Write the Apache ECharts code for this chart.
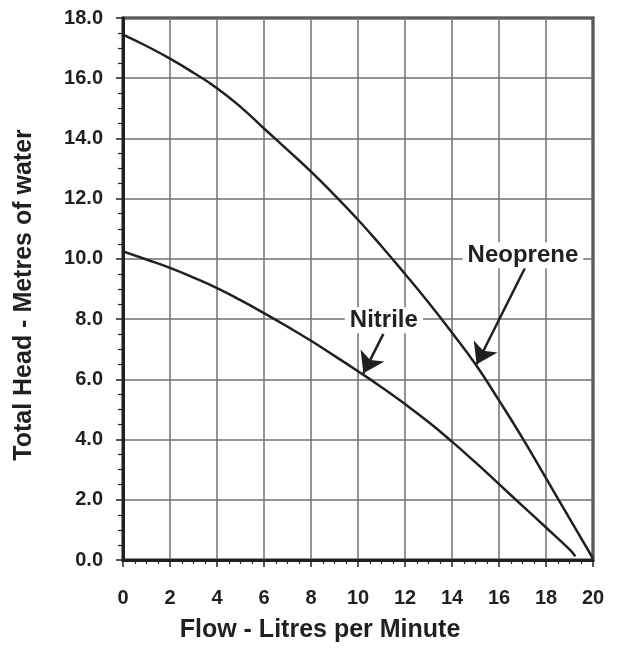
<!DOCTYPE html>
<html><head><meta charset="utf-8">
<script src="https://cdn.jsdelivr.net/npm/echarts@6/dist/echarts.min.js"></script>
<style>html,body{margin:0;padding:0;background:#fff}#c{width:617px;height:648px}</style>
</head><body><div id="c"></div>
<script>
// Data
const neopreneFlow = [0, 1, 2, 3, 4, 5, 6, 7, 8, 9, 10, 11, 12, 13, 14, 15, 16, 17, 18, 19, 20];
const neopreneHead = [17.45, 17.07, 16.65, 16.18, 15.67, 15.05, 14.33, 13.62, 12.9, 12.12, 11.3, 10.42, 9.5, 8.55, 7.55, 6.5, 5.3, 4.05, 2.72, 1.38, 0.05];
const nitrileFlow = [0, 1, 2, 3, 4, 5, 6, 7, 8, 9, 10, 11, 12, 13, 14, 15, 16, 17, 18, 19, 19.25];
const nitrileHead = [10.25, 9.98, 9.7, 9.38, 9.03, 8.63, 8.2, 7.75, 7.28, 6.78, 6.27, 5.74, 5.18, 4.58, 3.93, 3.24, 2.52, 1.8, 1.08, 0.35, 0.12];
const labelNames = ['Neoprene', 'Nitrile'];
const labelPos = [[17.02, 10.12], [11.1, 7.96]];
const arrowFrom = [[17.1, 9.69], [11.08, 7.51]];
const arrowTo = [[15.05, 6.5], [10.23, 6.2]];
const xTitle = 'Flow - Litres per Minute';
const yTitle = 'Total Head - Metres of water';

const FONT = "'Liberation Sans', Arial, sans-serif";
const INK = '#231f20';
const zip = (a, b) => a.map((v, i) => [v, b[i]]);

const chart = echarts.init(document.getElementById('c'), null, {renderer: 'canvas'});
chart.setOption({
  animation: false,
  backgroundColor: '#fff',
  grid: {left: 123, right: 24, top: 18, bottom: 84, show: true, borderColor: INK, borderWidth: 3, backgroundColor: 'transparent'},
  xAxis: {
    type: 'value', min: 0, max: 20, interval: 2,
    name: xTitle, nameLocation: 'middle', nameGap: 58,
    nameTextStyle: {fontFamily: FONT, fontWeight: 'bold', fontSize: 25, color: INK, padding: [0, 76, 0, 0]},
    axisLine: {show: true, onZero: false, lineStyle: {color: INK, width: 3}},
    axisTick: {show: true, length: 7, lineStyle: {color: INK, width: 1.5}},
    minorTick: {show: true, splitNumber: 4, length: 4, lineStyle: {color: INK, width: 1.2}},
    axisLabel: {fontFamily: FONT, fontWeight: 'bold', fontSize: 20, color: INK, margin: 28},
    splitLine: {show: true, lineStyle: {color: '#707070', width: 1.5}}
  },
  yAxis: {
    type: 'value', min: 0, max: 18, interval: 2,
    name: yTitle, nameLocation: 'middle', nameGap: 86,
    nameTextStyle: {fontFamily: FONT, fontWeight: 'bold', fontSize: 25, color: INK, padding: [0, 12, 0, 0]},
    axisLine: {show: true, onZero: false, lineStyle: {color: INK, width: 3}},
    axisTick: {show: true, length: 7, lineStyle: {color: INK, width: 1.5}},
    minorTick: {show: true, splitNumber: 4, length: 5, lineStyle: {color: INK, width: 1.2}},
    axisLabel: {fontFamily: FONT, fontWeight: 'bold', fontSize: 20, color: INK, margin: 20,
      formatter: v => v.toFixed(1)},
    splitLine: {show: true, lineStyle: {color: '#707070', width: 1.5}}
  },
  series: [
    {type: 'line', name: 'Neoprene', data: zip(neopreneFlow, neopreneHead), smooth: 0.5,
      showSymbol: false, lineStyle: {color: INK, width: 2.5}, z: 3},
    {type: 'line', name: 'Nitrile', data: zip(nitrileFlow, nitrileHead), smooth: 0.5,
      showSymbol: false, lineStyle: {color: INK, width: 2.5}, z: 3},
    {type: 'lines', coordinateSystem: 'cartesian2d', z: 4,
      symbol: ['none', 'arrow'], symbolSize: [12, 20],
      lineStyle: {color: INK, width: 2.5, opacity: 1},
      data: arrowFrom.map((f, i) => ({coords: [f, arrowTo[i]]}))},
    {type: 'scatter', symbolSize: 0, z: 5, itemStyle: {opacity: 1},
      data: labelPos.map((p, i) => ({value: p, name: labelNames[i]})),
      label: {show: true, position: 'inside', formatter: p => p.name,
        fontFamily: FONT, fontWeight: 'bold', fontSize: 24, color: INK,
        backgroundColor: '#fff', padding: [2, 5, 0, 5]}}
  ]
});
</script></body></html>
